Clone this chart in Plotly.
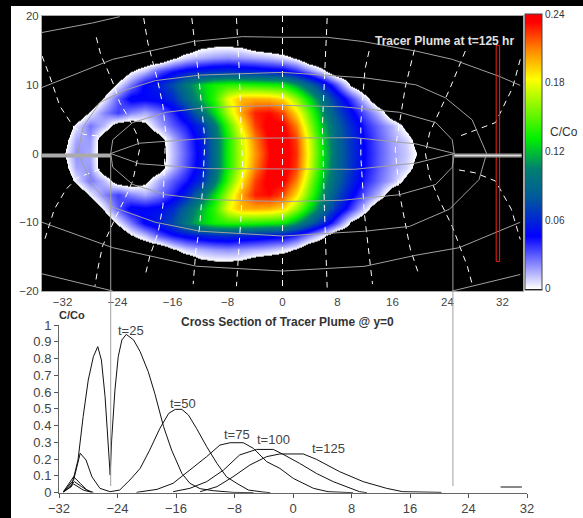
import plotly.graph_objects as go

W, H = 583, 518

# ---------- plume map: C/Co x 1000, read on a 2-unit grid (upper half, y>=0); negative = outside plume
map_x = list(range(-34, 24, 2))
map_y = [0, 2, 4, 6, 8, 10, 12, 14, 16]
row_y0 = [-20,-3,20,15,-15,-20,-20,-20,-10,12,30,50,90,135,170,205,232,240,225,175,125,90,65,45,30,18,10,-3,-20]
row_y2 = [-20,-10,16,18,-15,-20,-20,-20,-10,14,32,52,90,135,172,210,235,240,222,172,122,88,64,44,29,17,8,-10,-20]
row_y4 = [-20,-20,5,25,12,-12,-15,-5,15,30,42,60,98,145,185,222,238,235,210,160,115,85,60,40,26,14,-5,-20,-20]
row_y6 = [-20,-20,-20,3,22,35,22,15,25,40,58,90,125,168,202,228,232,220,190,148,105,75,50,30,12,-15,-20,-20,-20]
row_y8 = [-20,-20,-20,-20,3,30,50,48,50,62,88,115,140,180,198,200,198,190,162,125,90,60,35,8,-20,-20,-20,-20,-20]
row_y10 = [-20,-20,-20,-20,-20,4,25,48,58,75,100,122,135,140,140,138,135,132,112,85,58,30,-3,-20,-20,-20,-20,-20,-20]
row_y12 = [-20,-20,-20,-20,-20,-20,-2,10,30,42,50,56,60,62,58,56,52,50,38,20,2,-20,-20,-20,-20,-20,-20,-20,-20]
row_y14 = [-20,-20,-20,-20,-20,-20,-20,-20,-20,-3,8,14,18,20,18,15,12,6,-2,-20,-20,-20,-20,-20,-20,-20,-20,-20,-20]
row_y16 = [-20,-20,-20,-20,-20,-20,-20,-20,-20,-20,-20,-8,-5,-5,-6,-15,-20,-20,-20,-20,-20,-20,-20,-20,-20,-20,-20,-20,-20]
upper_rows = [row_y0, row_y2, row_y4, row_y6, row_y8, row_y10, row_y12, row_y14, row_y16]

# ---------- streamlines (gray) in the map
stream_1x = [-25,-20.8,-11,0,10.5,19.4,25]
stream_1y = [0,1.5,2.2,2.3,2.3,1.4,0]
stream_1ly = [0,-1.5,-2.2,-2.3,-2.3,-1.4,0]
stream_2x = [-25,-24.7,-21.8,-16.9,-11,0,8.7,17,22.3,24.7,25]
stream_2y = [0,2,4.5,6,6.7,7,6.8,6,4.5,2,0]
stream_2ly = [0,-2,-4.5,-6,-6.7,-7,-6.8,-6,-4.5,-2,0]
stream_3x = [-29.8,-29,-26.6,-23,-18.5,-12,0,12,19.4,23.7,27.6,29.7,28.6,24.3,18.5,12,0,-12,-18.5,-24.7,-27.5,-29.8]
stream_3y = [0,3.9,7.4,9.2,10.6,11.4,11.8,11,10,8.1,4.9,0,-3.8,-8.1,-10.6,-11.3,-12,-11.3,-10,-7.8,-4.8,0]
stream_4x = [-35,-24.7,-13,-5.8,0,6.5,11.6,19.4,24.7,31.6,34.6]
stream_4y = [9.6,13.7,16.3,17,16.9,16.9,16.3,14.9,13.7,11.2,9.9]
stream_5x = [-35,-24.7,-12.5,0,12,19.4,25.7,34.6]
stream_5y = [-10,-13.7,-16.4,-17.1,-16.4,-14.8,-13.7,-10]
corner_tl_x = [-35,-27.6,-23.7]
corner_tl_y = [17.6,19,19.9]
corner_bl_x = [-35,-24.7]
corner_bl_y = [-17.5,-20]
corner_br_x = [24.7,34.6]
corner_br_y = [-20,-17.6]

# ---------- equipotentials (white dashed) in the map
equi = [
    ([0,0], [20,-20]),
    ([6.5,5.8,6.1,6.5], [19.7,4,-8,-19.5]),
    ([12.6,12,11.4,11.4,11.9,12.8,13.1], [14.9,12.2,4.5,-0.4,-8.6,-16.4,-19]),
    ([19.2,17.9,16.4,17,18.6,19.9], [15.1,9.8,0.6,-5.7,-13.9,-17.8]),
    ([26.6,24.3,21.4,20.8,21.4,22.8,24.7,26.9,27.6], [14.9,9.3,3,0,-3.4,-6.7,-10.6,-16.4,-19]),
    ([34.6,33.5,31,25.7], [13.7,9.6,4.5,2.5]),
    ([25.7,28,31,33.3,34.6], [-2.4,-2.8,-4,-8.1,-12.5]),
    ([-6.7,-6.3,-6,-5.8,-6,-6.4,-6.7], [19.7,12.2,3,-1.9,-8.6,-15.4,-19.3]),
    ([-13.2,-12.1,-11.3,-11.6,-12.1,-12.6,-13], [19.7,10.3,2,-4.8,-11,-14,-19]),
    ([-20.2,-19.6,-19.1,-18.1,-17.4,-17,-17.4,-18.1,-19.3,-20], [19.7,16.1,14.2,10.3,6.9,3,-7.6,-11.5,-14.9,-17.8]),
    ([-27.1,-26.4,-25.4,-24.4,-23.7,-22.5,-21.3,-20.8,-21.8,-23,-24.2,-26.2,-26.9,-27.3], [16.9,14.2,12,9.6,7.4,5.4,3,0.6,-4,-6.7,-9.1,-13.5,-16.9,-19.3]),
    ([-35,-33.9,-32.4,-30.5,-29,-26.6], [14.2,11.3,6.9,4,2.8,2.5]),
    ([-26.6,-28,-29.8,-31.5,-33.2,-34.6], [-2.3,-2.8,-3.5,-5.2,-8.1,-12.5]),
]

# wells, and the row of monitoring points
well_left_x = [-35,-25]
well_right_x = [25,34.8]
well_y = [-0.3,-0.3]
barrier_x = [31.1,31.6,31.6,31.1,31.1]
barrier_y = [15.7,15.7,-15.7,-15.7,15.7]

# ---------- cross sections
t25_x = [-31.4,-30.3,-29.4,-28.7,-28,-27.3,-26.7,-26.2,-25.7,-25.3,-25,-24.8,-24.35,-23.9,-23.4,-22.8,-21.8,-20.9,-19.8,-18.9,-17.7,-16.6,-15.2,-14.1,-12.7,-10.9,-8.2,-5.4]
t25_y = [.006,.036,.195,.453,.672,.811,.871,.791,.573,.294,.105,.314,.612,.811,.911,.944,.911,.841,.722,.592,.394,.254,.115,.056,.024,.012,.002,0]
t50_x = [-31.4,-30,-29.1,-28.3,-27.5,-26.4,-25,-23.7,-22.3,-20.9,-19.6,-18.2,-17,-16.1,-15.2,-14.3,-13.2,-11.8,-10.4,-9.1,-7.7,-6.1,-4.1,-3.1]
t50_y = [.006,.076,.235,.195,.095,.026,.006,.016,.076,.145,.254,.384,.473,.497,.497,.463,.384,.274,.175,.095,.056,.016,.004,0]
t75_lx = [-31.4,-30,-29.1,-28.2,-27.3]
t75_ly = [.006,.095,.056,.016,.002]
t75_x = [-21.4,-18.6,-16.4,-14.1,-11.8,-10,-8.6,-6.8,-5.4,-3.6,-1.8,.05,2.8,4.8,8.2]
t75_y = [.002,.02,.056,.135,.215,.284,.298,.298,.264,.185,.145,.085,.026,.006,0]
t100_lx = [-31.4,-29.9,-28.9,-27.8]
t100_ly = [.006,.066,.036,.006]
t100_x = [-16.4,-14.1,-11.8,-9.5,-7.3,-5,-2.7,-1.4,.9,3.2,5.5,9.1,10.1]
t100_y = [.006,.026,.066,.135,.225,.258,.258,.23,.175,.115,.066,.006,0]
t125_lx = [-31.4,-30,-28.7,-27.5]
t125_ly = [.002,.052,.016,.002]
t125_x = [-12.7,-10.4,-8.2,-5.9,-3.6,-1.8,1.4,3.2,6.4,9.6,12.8,15,20.3]
t125_y = [.006,.036,.095,.165,.215,.231,.231,.199,.125,.066,.026,.006,.002]
stub_x = [28.4,31.3]
stub_y = [.034,.034]

x_ticks = [-32,-24,-16,-8,0,8,16,24,32]
map_y_ticks = [-20,-10,0,10,20]
section_y_ticks = [0,.1,.2,.3,.4,.5,.6,.7,.8,.9,1]
section_y_labels = ["0","0.1","0.2","0.3","0.4","0.5","0.6","0.7","0.8","0.9","1"]
bar_ticks = [0,.06,.12,.18,.24]
bar_labels = ["0","0.06","0.12","0.18","0.24"]

# ---------- build
all_y = [-v for v in map_y[:0:-1]] + map_y
all_z = [[v / 1000 for v in r] for r in upper_rows[:0:-1] + upper_rows]

fig = go.Figure()
ZMIN, ZMAX = -0.001, 0.24
def f(v):
    return (v - ZMIN) / (ZMAX - ZMIN)
scale = [[0,"#000"],[f(-0.0002),"#000"],[f(0),"#ffffff"],[f(.046),"#0000ff"],[f(.08),"#005a9a"],[f(.105),"#008070"],
         [f(.131),"#00f000"],[f(.183),"#ffff00"],[f(.21),"#ff8000"],[f(.233),"#ff0000"],[1,"#ff0000"]]
fig.add_trace(go.Heatmap(x=map_x, y=all_y, z=all_z, zsmooth="best", zmin=ZMIN, zmax=ZMAX,
    colorscale=scale, xaxis="x", yaxis="y", hoverinfo="skip",
    colorbar=dict(x=525/W, xanchor="left", xref="paper", y=1-14/H, yanchor="top", yref="paper",
                  lenmode="pixels", len=276, thicknessmode="pixels", thickness=17,
                  tickvals=bar_ticks, ticktext=bar_labels, ticks="", ticklabelposition="outside",
                  tickfont=dict(family="Liberation Sans", size=10, color="#333"),
                  outlinecolor="#444", outlinewidth=1, xpad=0, ypad=0)))

def line(x, y, color, width=1, dash=None, ax=("x","y")):
    fig.add_trace(go.Scatter(x=x, y=y, mode="lines", xaxis=ax[0], yaxis=ax[1], hoverinfo="skip",
                             line=dict(color=color, width=width, dash=dash), showlegend=False))

for ex, ey in equi:
    line(ex, ey, "#ffffff", 1, "6px,5px")
GR = "#a0a0a0"
line(stream_1x, stream_1y, GR, 1); line(stream_1x, stream_1ly, GR, 1)
line(stream_2x, stream_2y, GR, 1); line(stream_2x, stream_2ly, GR, 1)
line(stream_3x, stream_3y, GR, 1)
line(stream_4x, stream_4y, GR, 1); line(stream_5x, stream_5y, GR, 1)
line(corner_tl_x, corner_tl_y, GR, 1); line(corner_bl_x, corner_bl_y, GR, 1); line(corner_br_x, corner_br_y, GR, 1)
line(barrier_x, barrier_y, "#f02010", 1)
line(well_left_x, well_y, "#aaaaaa", 4)
line(well_right_x, well_y, "#999999", 4)
line(well_right_x, well_y, "#dddddd", 1)

BL = "#111111"
for sx, sy in [(t25_x,t25_y),(t50_x,t50_y),(t75_lx,t75_ly),(t75_x,t75_y),(t100_lx,t100_ly),
               (t100_x,t100_y),(t125_lx,t125_ly),(t125_x,t125_y),(stub_x,stub_y)]:
    line(sx, sy, BL, 1, None, ("x2","y2"))

TC = "#444444"
tf = dict(family="Liberation Sans", size=11.5, color=TC)
tf2 = dict(family="Liberation Sans", size=13, color=TC)
fig.update_layout(
    width=W, height=H, autosize=False, margin=dict(l=0, r=0, t=0, b=0, autoexpand=False),
    paper_bgcolor="#ffffff", plot_bgcolor="#ffffff", showlegend=False,
    xaxis=dict(domain=[42/W, 523/W], range=[-35,35], tickvals=x_ticks, ticks="", tickfont=tf,
               showgrid=False, zeroline=False, showline=True, mirror=True, linecolor="#aaaaaa", anchor="y"),
    yaxis=dict(domain=[1-291/H, 1-16/H], range=[-20,20], tickvals=map_y_ticks, ticks="", tickfont=tf,
               showgrid=False, zeroline=False, showline=True, mirror=True, linecolor="#aaaaaa", anchor="x"),
    xaxis2=dict(domain=[59/W, 527/W], range=[-32,32], tickvals=x_ticks, ticks="outside", ticklen=4, tickcolor="#555",
                tickfont=tf2, showgrid=False, zeroline=False,
                showline=True, linecolor="#666666", anchor="y2"),
    yaxis2=dict(domain=[1-492.7/H, 1-325/H], range=[0,1], tickvals=section_y_ticks, ticktext=section_y_labels,
                ticks="outside", ticklen=4, tickcolor="#555", tickfont=tf2,
                showgrid=False, zeroline=False, showline=True, linecolor="#666666", anchor="x2"),
    shapes=[
        dict(type="rect", xref="paper", yref="paper", x0=0, x1=11/W, y0=0, y1=1, fillcolor="#000", line_width=0, layer="below"),
        dict(type="rect", xref="paper", yref="paper", x0=0, x1=1, y0=1-6/H, y1=1, fillcolor="#000", line_width=0, layer="below"),
        dict(type="rect", xref="x domain", yref="y domain", x0=0, x1=1, y0=0, y1=1, fillcolor="#000", line_width=0, layer="below"),
        dict(type="line", xref="x", yref="paper", x0=-25, x1=-25, y0=1-486/H, y1=1-154/H,
             line=dict(color="#a0a0a0", width=1)),
        dict(type="line", xref="x", yref="paper", x0=24.8, x1=24.8, y0=1-486/H, y1=1-154/H,
             line=dict(color="#a0a0a0", width=1)),
    ],
    annotations=[
        dict(text="<b>Tracer Plume at t=125 hr</b>", xref="paper", yref="paper", x=444/W, y=1-32/H, showarrow=False, xanchor="center",
             font=dict(family="Liberation Sans", size=12, color="#e0e0e0")),
        dict(text="C/Co", xref="paper", yref="paper", x=564/W, y=1-123/H, showarrow=False, xanchor="center",
             font=dict(family="Liberation Sans", size=12, color="#333")),
        dict(text="<b>C/Co</b>", xref="paper", yref="paper", x=72/W, y=1-315/H, showarrow=False, xanchor="center",
             font=dict(family="Liberation Sans", size=11, color="#333")),
        dict(text="<b>Cross Section of Tracer Plume @ y=0</b>", xref="paper", yref="paper", x=287/W, y=1-322/H, showarrow=False, xanchor="center",
             font=dict(family="Liberation Sans", size=12, color="#333")),
        dict(text="t=25", xref="x2", yref="y2", x=-22.1, y=.97, showarrow=False, font=tf2),
        dict(text="t=50", xref="x2", yref="y2", x=-15.1, y=.53, showarrow=False, font=tf2),
        dict(text="t=75", xref="x2", yref="y2", x=-7.7, y=.35, showarrow=False, font=tf2),
        dict(text="t=100", xref="x2", yref="y2", x=-2.6, y=.315, showarrow=False, font=tf2),
        dict(text="t=125", xref="x2", yref="y2", x=4.9, y=.265, showarrow=False, font=tf2),
    ],
)
fig.write_html("out.html", config={"displayModeBar": False},
               post_script="document.body.style.margin='0';document.documentElement.style.overflow='hidden';")
